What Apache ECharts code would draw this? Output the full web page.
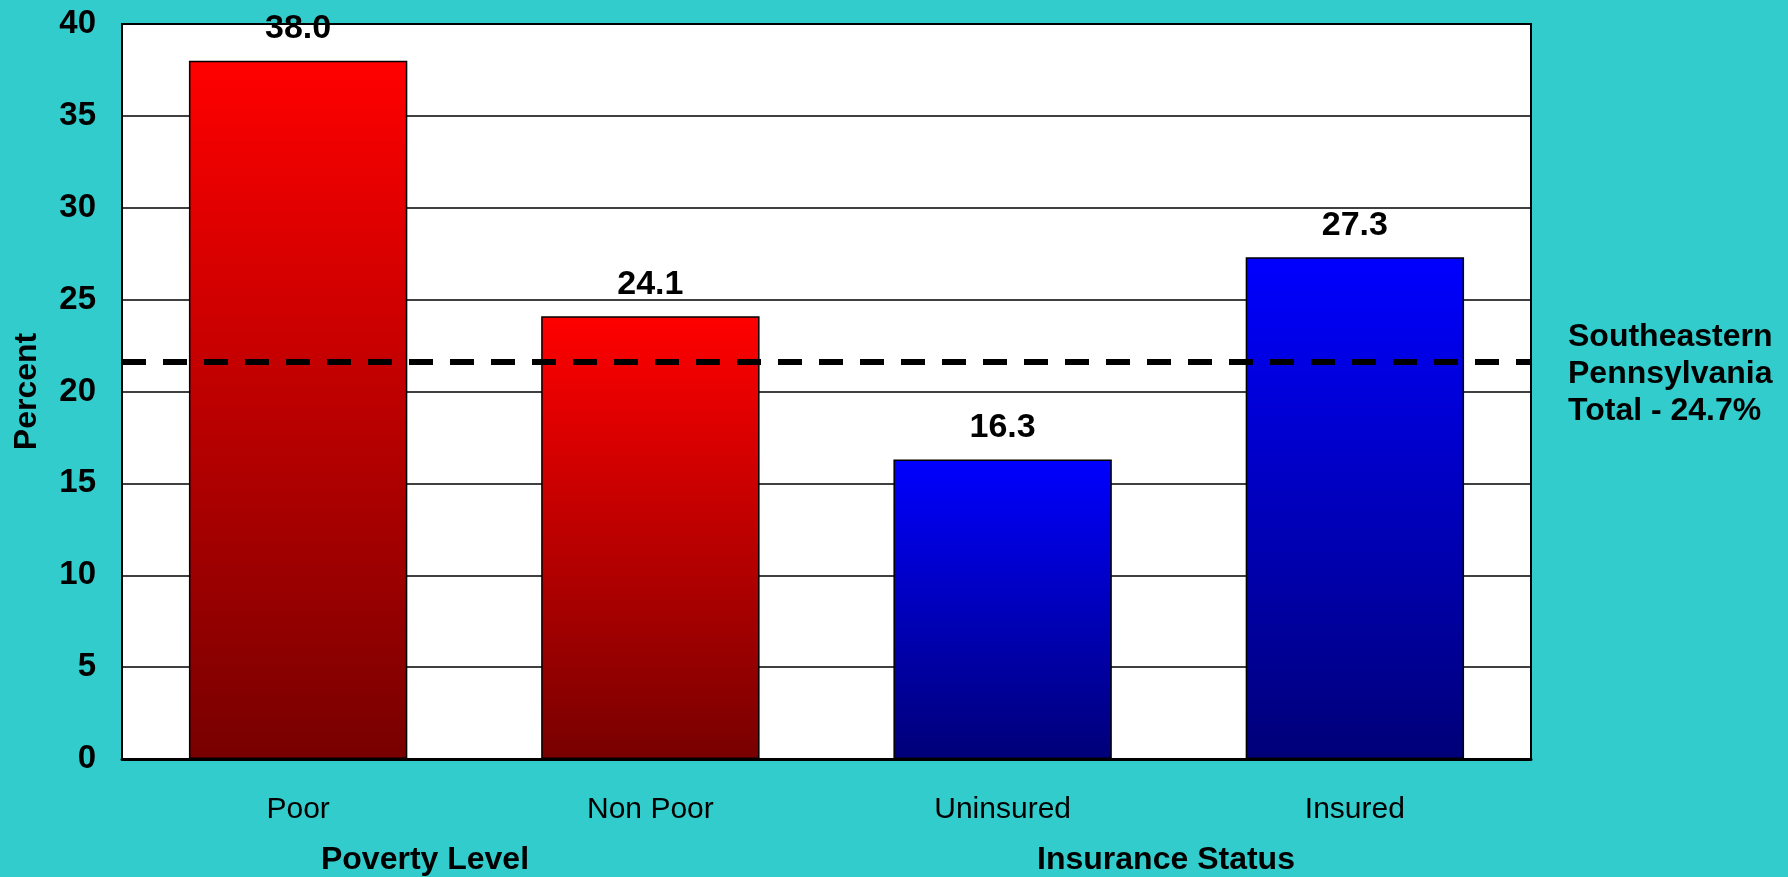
<!DOCTYPE html>
<html>
<head>
<meta charset="utf-8">
<script src="https://cdn.jsdelivr.net/npm/echarts@6/dist/echarts.min.js"></script>
<style>
  html, body { margin: 0; padding: 0; background: #33cccc; }
  #chart { width: 1788px; height: 877px; }
</style>
</head>
<body>
<div id="chart"></div>
<script>
var categories = ['Poor', 'Non Poor', 'Uninsured', 'Insured'];
var values = [38.0, 24.1, 16.3, 27.3];
var groups = ['poverty', 'poverty', 'insurance', 'insurance'];
var groupNames = ['Poverty Level', 'Insurance Status'];
var yTicks = [0, 5, 10, 15, 20, 25, 30, 35, 40];
var totalLine = 21.6;
var totalText = ['Southeastern', 'Pennsylvania', 'Total - 24.7%'];

var redFill = {
    type: 'linear', x: 0, y: 0, x2: 0, y2: 1,
    colorStops: [{ offset: 0, color: '#ff0000' }, { offset: 1, color: '#780000' }]
};
var blueFill = {
    type: 'linear', x: 0, y: 0, x2: 0, y2: 1,
    colorStops: [{ offset: 0, color: '#0000ff' }, { offset: 1, color: '#000078' }]
};

var barData = values.map(function (v, i) {
    return {
        value: v,
        itemStyle: { color: groups[i] == 'poverty' ? redFill : blueFill }
    };
});

var font = 'Arial, "Liberation Sans", sans-serif';

// spacer line on top pushes the note a bit below the dashed line
var noteLabel = '{s| }\n' + totalText.map(function (t) { return '{t|' + t + '}'; }).join('\n');

var option = {
    backgroundColor: '#33cccc',
    grid: {
        left: 122, right: 257, top: 24, bottom: 118,
        outerBoundsMode: 'none',
        containLabel: false,
        show: true,
        backgroundColor: '#ffffff',
        borderColor: '#000000',
        borderWidth: 2
    },
    xAxis: {
        type: 'category',
        data: categories,
        axisLine: { lineStyle: { color: '#000', width: 3 } },
        axisTick: { show: false },
        axisLabel: { margin: 36, fontSize: 30, color: '#000', fontFamily: font }
    },
    yAxis: {
        type: 'value',
        min: yTicks[0],
        max: yTicks[yTicks.length - 1],
        interval: 5,
        name: 'Percent',
        nameLocation: 'middle',
        nameGap: 79,
        nameTextStyle: { fontSize: 32, fontWeight: 'bold', color: '#000', fontFamily: font },
        axisLine: { show: false },
        axisTick: { show: false },
        splitLine: { lineStyle: { color: '#000', width: 1.5 } },
        axisLabel: { margin: 26, fontSize: 33, fontWeight: 'bold', color: '#000', fontFamily: font }
    },
    series: [{
        type: 'bar',
        data: barData,
        barWidth: '62%',
        itemStyle: { borderColor: '#000', borderWidth: 1.5 },
        label: {
            show: true,
            position: 'top',
            distance: 15,
            fontSize: 34,
            fontWeight: 'bold',
            color: '#000',
            fontFamily: font,
            formatter: function (p) { return p.value.toFixed(1); }
        },
        markLine: {
            silent: true,
            symbol: ['none', 'none'],
            lineStyle: { color: '#000', width: 6, type: [24, 17] },
            label: {
                show: true,
                position: 'end',
                distance: 37,
                color: '#000',
                align: 'left',
                formatter: noteLabel,
                rich: {
                    s: { fontSize: 10, lineHeight: 24 },
                    t: { fontSize: 32, fontWeight: 'bold', lineHeight: 37, color: '#000', fontFamily: font }
                }
            },
            data: [{ yAxis: totalLine }]
        }
    }],
    graphic: [
        {
            type: 'text', x: 425, y: 860,
            style: {
                text: groupNames[0], fontSize: 32, fontWeight: 'bold', fill: '#000',
                fontFamily: font, textAlign: 'center', textVerticalAlign: 'middle'
            }
        },
        {
            type: 'text', x: 1166, y: 860,
            style: {
                text: groupNames[1], fontSize: 32, fontWeight: 'bold', fill: '#000',
                fontFamily: font, textAlign: 'center', textVerticalAlign: 'middle'
            }
        }
    ]
};

var myChart = echarts.init(document.getElementById('chart'));
myChart.setOption(option);
</script>
</body>
</html>
